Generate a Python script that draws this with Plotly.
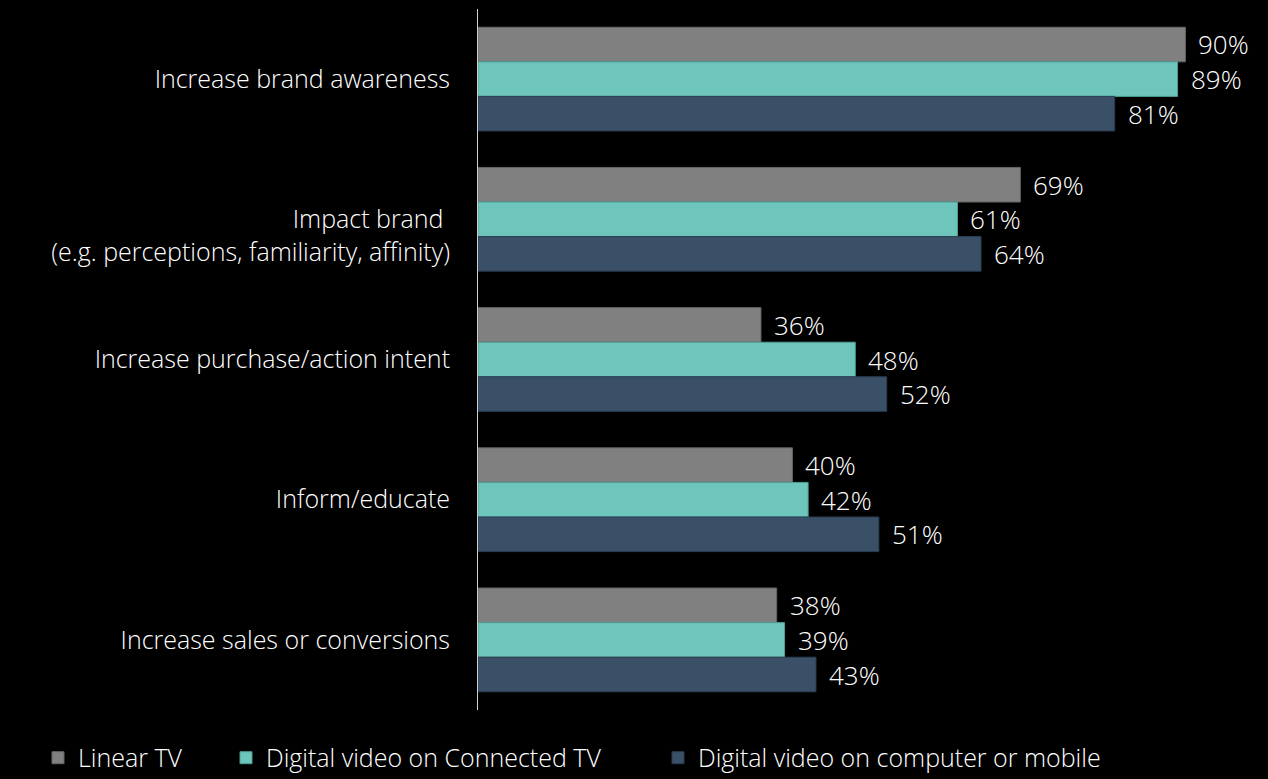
import plotly.graph_objects as go

categories = [
    "Increase brand awareness",
    " <br>Impact brand <br>(e.g. perceptions, familiarity, affinity)",
    "Increase purchase/action intent",
    "Inform/educate",
    "Increase sales or conversions",
]
series_names = ["Linear TV", "Digital video on Connected TV", "Digital video on computer or mobile"]
linear_tv = [90, 69, 36, 40, 38]
connected_tv = [89, 61, 48, 42, 39]
computer_mobile = [81, 64, 52, 51, 43]

fill_colors = ["#808080", "#6dc5bc", "#3a5067"]
edge_colors = ["#666666", "#4d9e96", "#2a3d52"]
legend_ids = ["legend", "legend2", "legend3"]
legend_x = [38, 226, 658]

FONT = "Open Sans"
TEXT_COLOR = "#ffffff"
txt = dict(family=FONT, size=25, color=TEXT_COLOR, weight=300)
val_txt = dict(family=FONT, size=26, color=TEXT_COLOR, weight=300)

fig = go.Figure()
for name, vals, fc, ec, lg in zip(series_names, [linear_tv, connected_tv, computer_mobile],
                                   fill_colors, edge_colors, legend_ids):
    fig.add_trace(go.Bar(
        name=name,
        y=categories,
        x=vals,
        orientation="h",
        marker=dict(color=fc, line=dict(color=ec, width=1)),
        legend=lg,
        hoverinfo="skip",
    ))

# value labels placed just right of each bar end
annotations = []
for si, vals in enumerate([linear_tv, connected_tv, computer_mobile]):
    for ci, v in enumerate(vals):
        annotations.append(dict(
            x=v, y=categories[ci], xref="x", yref="y",
            text=f"{v}%", showarrow=False,
            xanchor="left", yanchor="middle",
            xshift=11,
            yshift=-(si - 1) * 34.7,
            font=val_txt,
        ))

legend_layout = {}
for lg, lx in zip(legend_ids, legend_x):
    legend_layout[lg] = dict(
        orientation="h",
        xref="container", yref="container",
        x=lx / 1268, y=0.027, xanchor="left", yanchor="middle",
        font=txt,
        bgcolor="rgba(0,0,0,0)",
    )

fig.update_layout(
    width=1268, height=779,
    paper_bgcolor="#000000", plot_bgcolor="#000000",
    margin=dict(l=478, r=4, t=9, b=69),
    barmode="group", bargap=0.26, bargroupgap=0,
    font=txt,
    xaxis=dict(range=[0, 100], visible=False, fixedrange=True),
    yaxis=dict(
        autorange="reversed",
        showline=True, linecolor="#d0d0d0", linewidth=1,
        showgrid=False, zeroline=False, ticks="",
        ticklabelstandoff=22,
        tickfont=txt,
    ),
    annotations=annotations,
    showlegend=True,
    **legend_layout,
)

fig.write_html("out.html")
